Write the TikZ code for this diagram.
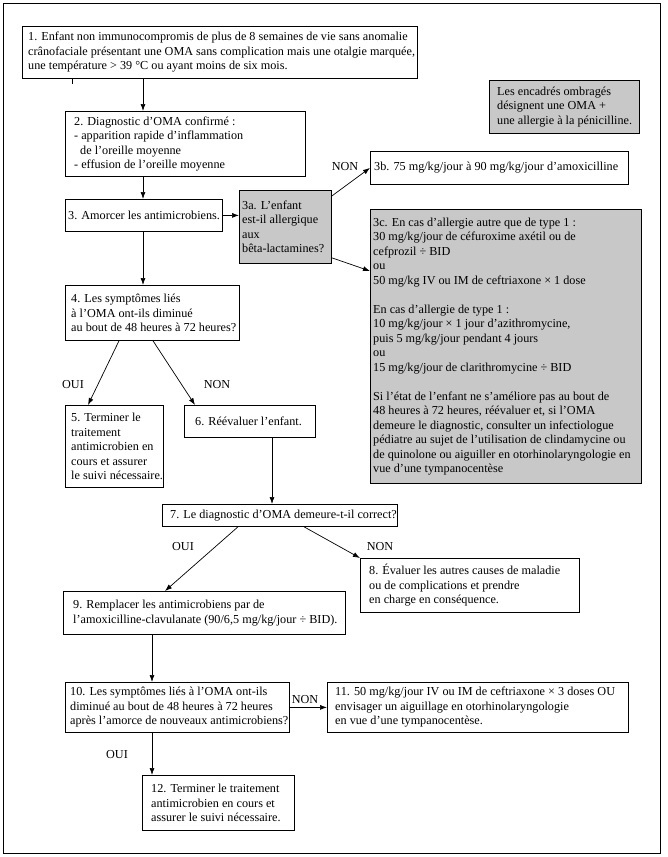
\documentclass[tikz,border=0pt]{standalone}
\usepackage{fontspec}
\setmainfont{Liberation Serif}
\usetikzlibrary{arrows.meta,calc}
\definecolor{shade}{RGB}{200,200,200}
\tikzset{
  frame/.style={draw, line width=0.9pt},
  bx/.style={draw, line width=0.8pt, inner sep=0pt, anchor=north west},
  gbx/.style={bx, fill=shade},
  txt/.style={inner sep=0pt, anchor=west, align=left, font=\fontsize{12.2}{14.5}\selectfont},
  lbl/.style={inner sep=0pt, font=\fontsize{12.2}{14.5}\selectfont},
  arr/.style={line width=0.7pt, -{Latex[length=7pt,width=5pt]}},
  tick/.style={line width=0.8pt},
}
% style, name, x1, y1, x2, y2, pad, text
\newcommand{\fbx}[8]{%
  \node[#1, minimum width={(#5-#3)*1pt}, minimum height={(#6-#4)*1pt}] (#2) at (#3,#4) {};
  \node[txt] (#2-t) at ([xshift=#7pt]#2.west) {#8};
}
\begin{document}
\begin{tikzpicture}[x=1pt,y=-1pt]
\useasboundingbox (0,0) rectangle (668,857);
\node[frame, inner sep=0pt, anchor=north west, minimum width=657pt, minimum height=850pt] (outer) at (3,3) {};

\fbx{bx}{b1}{22}{26}{417}{78}{6}{1. Enfant non immunocompromis de plus de 8 semaines de vie sans anomalie\\ crânofaciale présentant une OMA sans complication mais une otalgie marquée,\\ une température > 39 °C ou ayant moins de six mois.}
\fbx{gbx}{leg}{489}{80}{639}{133}{8}{Les encadrés ombragés\\ désignent une OMA +\\ une allergie à la pénicilline.}
\fbx{bx}{b2}{65}{111}{305}{176}{9}{2. Diagnostic d’OMA confirmé :\\ - apparition rapide d’inflammation\\ \hspace*{6pt}de l’oreille moyenne\\ - effusion de l’oreille moyenne}
\fbx{bx}{b3b}{370}{151}{628}{184}{4}{3b. 75 mg/kg/jour à 90 mg/kg/jour d’amoxicilline}
\fbx{bx}{b3}{65}{199}{222}{231}{3}{3. Amorcer les antimicrobiens.}
\fbx{gbx}{b3a}{239}{190}{331}{263}{3}{3a. L’enfant\\ est-il allergique\\ aux\\ bêta-lactamines?}
\fbx{gbx}{b3c}{370}{209}{641}{483}{3}{3c. En cas d’allergie autre que de type 1 :\\ 30 mg/kg/jour de céfuroxime axétil ou de\\ cefprozil ÷ BID\\ ou\\ 50 mg/kg IV ou IM de ceftriaxone × 1 dose\\[14.5pt] En cas d’allergie de type 1 :\\ 10 mg/kg/jour × 1 jour d’azithromycine,\\ puis 5 mg/kg/jour pendant 4 jours\\ ou\\ 15 mg/kg/jour de clarithromycine ÷ BID\\[14.5pt] Si l’état de l’enfant ne s’améliore pas au bout de\\ 48 heures à 72 heures, réévaluer et, si l’OMA\\ demeure le diagnostic, consulter un infectiologue\\ pédiatre au sujet de l’utilisation de clindamycine ou\\ de quinolone ou aiguiller en otorhinolaryngologie en\\ vue d’une tympanocentèse}
\fbx{bx}{b4}{65}{285}{239}{340}{6}{4. Les symptômes liés\\ à l’OMA ont-ils diminué\\ au bout de 48 heures à 72 heures?}
\fbx{bx}{b5}{65}{405}{163}{487}{6}{5. Terminer le\\ traitement\\ antimicrobien en\\ cours et assurer\\ le suivi nécessaire.}
\fbx{bx}{b6}{184}{405}{315}{437}{11}{6. Réévaluer l’enfant.}
\fbx{bx}{b7}{162}{504}{397}{526}{8}{7. Le diagnostic d’OMA demeure-t-il correct?}
\fbx{bx}{b8}{360}{558}{579}{612}{9}{8. Évaluer les autres causes de maladie\\ ou de complications et prendre\\ en charge en conséquence.}
\fbx{bx}{b9}{63}{591}{345}{634}{10}{9. Remplacer les antimicrobiens par de\\ l’amoxicilline-clavulanate (90/6,5 mg/kg/jour ÷ BID).}
\fbx{bx}{b10}{65}{682}{289}{732}{5}{10. Les symptômes liés à l’OMA ont-ils\\ diminué au bout de 48 heures à 72 heures\\ après l’amorce de nouveaux antimicrobiens?}
\fbx{bx}{b11}{327}{682}{628}{732}{8}{11. 50 mg/kg/jour IV ou IM de ceftriaxone × 3 doses OU\\ envisager un aiguillage en otorhinolaryngologie\\ en vue d’une tympanocentèse.}
\fbx{bx}{b12}{142}{775}{294}{830}{9}{12. Terminer le traitement\\ antimicrobien en cours et\\ assurer le suivi nécessaire.}

\coordinate (c72) at (72,0);
\coordinate (c88) at (88,0);
\coordinate (c119) at (119,0);
\coordinate (c143) at (143,0);
\coordinate (c152) at (152,0);
\coordinate (c153) at (153,0);
\coordinate (c165) at (165,0);
\coordinate (c195) at (195,0);
\coordinate (c238) at (238,0);
\coordinate (c272) at (272,0);
\coordinate (c304) at (304,0);

\draw[tick] (b1.south -| c72) -- ++(0,5);
\draw[arr] (b1.south -| c143) -- (b2.north -| c143);
\draw[arr] (b2.south -| c143) -- (b3.north -| c143);
\draw[arr] (b3.east) -- (b3a.west |- b3.east);
\draw[arr] ([yshift=-6pt]b3a.north east) -- (b3b.west);
\draw[arr] ([yshift=6pt]b3a.south east) -- ([yshift=-62pt]b3c.north west);
\draw[arr] (b3.south -| c143) -- (b4.north -| c143);
\draw[arr] (b4.south -| c119) -- (b5.north -| c88);
\draw[arr] (b4.south -| c153) -- (b6.north -| c195);
\draw[arr] (b6.south -| c272) -- (b7.north -| c272);
\draw[arr] (b7.south -| c238) -- (b9.north -| c165);
\draw[arr] (b7.south -| c304) -- (b8.north west);
\draw[arr] (b9.south -| c152) -- (b10.north -| c152);
\draw[arr] (b10.east) -- (b11.west |- b10.east);
\draw[arr] (b10.south -| c152) -- (b12.north -| c152);

\node[lbl] (n3b) at (345,167) {NON};
\node[lbl] (o5) at (73,385) {OUI};
\node[lbl] (n6) at (217,385) {NON};
\node[lbl] (o9) at (183,547) {OUI};
\node[lbl] (n8) at (380,547) {NON};
\node[lbl] (n11) at (305,700) {NON};
\node[lbl] (o12) at (117,755) {OUI};
\end{tikzpicture}
\end{document}
